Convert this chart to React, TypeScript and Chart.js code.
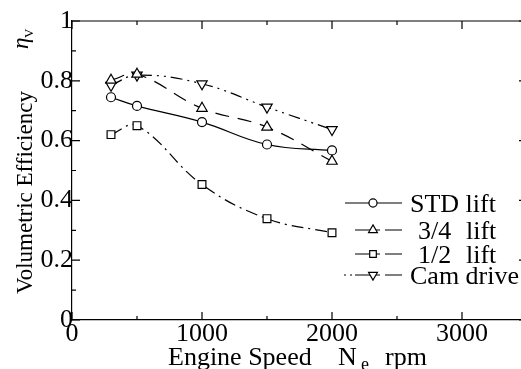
import React, { useEffect, useRef } from 'react';
import { Chart, registerables } from 'chart.js';
Chart.register(...registerables);

const speeds = [300, 500, 1000, 1500, 2000];
const stdLift = [0.745, 0.716, 0.662, 0.587, 0.567];
const threeQuarterLift = [0.802, 0.822, 0.708, 0.645, 0.531];
const halfLift = [0.62, 0.65, 0.453, 0.339, 0.292];
const camDrive = [0.785, 0.819, 0.79, 0.712, 0.637];
const seriesLabels = ['STD lift', '3/4', '1/2', 'Cam drive'];
const xTickValues = [0, 1000, 2000, 3000];
const yTickValues = [0, 0.2, 0.4, 0.6, 0.8, 1];

const FONT = "'Liberation Serif', 'Times New Roman', serif";

const styles = [
  { dash: [], point: 'circle', radius: 4.5, rot: 0 },
  { dash: [14, 9], point: 'triangle', radius: 6, rot: 0 },
  { dash: [12, 5, 2, 5], point: 'rect', radius: 5.5, rot: 0 },
  { dash: [12, 5, 2, 5, 2, 5], point: 'triangle', radius: 6, rot: 180 },
];

function drawMarker(ctx: CanvasRenderingContext2D, kind: string, x: number, y: number, r: number, rot: number) {
  ctx.save();
  ctx.setLineDash([]);
  ctx.fillStyle = '#fff';
  ctx.strokeStyle = '#000';
  ctx.lineWidth = 1.2;
  ctx.beginPath();
  if (kind === 'circle') {
    ctx.arc(x, y, r, 0, Math.PI * 2);
  } else if (kind === 'rect') {
    const s = Math.SQRT1_2 * r;
    ctx.rect(x - s, y - s, 2 * s, 2 * s);
  } else {
    const a0 = (rot * Math.PI) / 180;
    for (let i = 0; i < 3; i++) {
      const a = a0 + (i * 2 * Math.PI) / 3;
      const px = x + Math.sin(a) * r;
      const py = y - Math.cos(a) * r;
      if (i === 0) ctx.moveTo(px, py); else ctx.lineTo(px, py);
    }
    ctx.closePath();
  }
  ctx.fill();
  ctx.stroke();
  ctx.restore();
}

const decorPlugin = {
  id: 'decor',
  afterDraw(chart: any) {
    const ctx: CanvasRenderingContext2D = chart.ctx;
    const { left, right, top, bottom } = chart.chartArea;
    const xs = chart.scales.x;
    const ys = chart.scales.y;
    ctx.save();
    ctx.strokeStyle = '#000';
    ctx.lineWidth = 1.2;
    ctx.setLineDash([]);
    ctx.beginPath();
    ctx.moveTo(left, top);
    ctx.lineTo(right, top);
    ctx.lineTo(right, bottom);
    ctx.stroke();
    ctx.beginPath();
    for (let v = 0; v <= 3500; v += 500) {
      const px = xs.getPixelForValue(v);
      const len = v % 1000 === 0 ? 8 : 4;
      ctx.moveTo(px, bottom); ctx.lineTo(px, bottom - len);
      ctx.moveTo(px, top); ctx.lineTo(px, top + len);
    }
    for (let i = 0; i <= 10; i++) {
      const v = i / 10;
      const py = ys.getPixelForValue(v);
      const len = i % 2 === 0 ? 8 : 4;
      ctx.moveTo(left, py); ctx.lineTo(left + len, py);
      ctx.moveTo(right, py); ctx.lineTo(right - len, py);
    }
    ctx.stroke();

    ctx.fillStyle = '#000';
    ctx.textBaseline = 'alphabetic';
    ctx.textAlign = 'left';
    ctx.font = `26px ${FONT}`;
    ctx.fillText('Engine Speed', 168, 365);
    ctx.fillText('N', 338, 365);
    ctx.fillText('rpm', 385, 365);
    ctx.font = `18px ${FONT}`;
    ctx.fillText('e', 361, 370);

    ctx.save();
    ctx.translate(32, 294);
    ctx.rotate(-Math.PI / 2);
    ctx.font = `23px ${FONT}`;
    ctx.fillText('Volumetric Efficiency', 0, 0);
    ctx.restore();
    ctx.save();
    ctx.translate(28, 49);
    ctx.rotate(-Math.PI / 2);
    ctx.font = `italic 23px ${FONT}`;
    ctx.fillText('\u03B7', 0, 0);
    ctx.font = `13px ${FONT}`;
    ctx.fillText('V', 11, 5);
    ctx.restore();

    const rows = [203, 230, 254, 275];
    ctx.font = `26px ${FONT}`;
    chart.data.datasets.forEach((ds: any, i: number) => {
      const st = styles[i];
      const y = rows[i];
      ctx.save();
      ctx.lineWidth = 1.2;
      ctx.strokeStyle = '#000';
      ctx.beginPath();
      if (i === 0) {
        ctx.moveTo(345, y); ctx.lineTo(402, y);
      } else {
        if (i === 3) { ctx.moveTo(344, y); ctx.lineTo(346, y); ctx.moveTo(350, y); ctx.lineTo(352, y); }
        ctx.moveTo(355, y); ctx.lineTo(380, y);
        ctx.moveTo(385, y); ctx.lineTo(402, y);
      }
      ctx.stroke();
      ctx.restore();
      drawMarker(ctx, st.point, 373, y, st.radius * (i === 0 ? 0.9 : 0.85), st.rot);
      const base = y + 9;
      if (i === 0) {
        ctx.fillText('STD lift', 410, base);
      } else if (i === 3) {
        ctx.fillText('Cam drive', 410, base);
      } else {
        ctx.fillText(ds.label, 418, base);
        ctx.fillText('lift', 466, base);
      }
    });
    ctx.restore();
  },
};

export default function App() {
  const ref = useRef<HTMLCanvasElement>(null);
  useEffect(() => {
    if (!ref.current) return;
    const series = [stdLift, threeQuarterLift, halfLift, camDrive];
    const chart = new Chart(ref.current, {
      type: 'line',
      data: {
        datasets: series.map((vals, i) => ({
          label: seriesLabels[i],
          data: speeds.map((s, j) => ({ x: s, y: vals[j] })),
          borderColor: '#000',
          borderWidth: 1.2,
          borderDash: styles[i].dash,
          tension: 0.4,
          fill: false,
          pointStyle: styles[i].point as any,
          pointRadius: styles[i].radius,
          pointRotation: styles[i].rot,
          pointBackgroundColor: '#fff',
          pointBorderColor: '#000',
          pointBorderWidth: 1.2,
        })),
      },
      options: {
        responsive: false,
        maintainAspectRatio: false,
        animation: false,
        layout: { padding: { left: 0, right: 13, top: 21, bottom: 0 } },
        plugins: { legend: { display: false }, tooltip: { enabled: false } },
        scales: {
          x: {
            type: 'linear',
            min: 0,
            max: 3500,
            afterBuildTicks: (s: any) => { s.ticks = xTickValues.map((v) => ({ value: v })); },
            afterFit: (s: any) => { s.height = 49; },
            grid: { display: true, drawOnChartArea: false, drawTicks: false },
            border: { display: true, color: '#000', width: 1.2 },
            ticks: { color: '#000', font: { family: FONT, size: 26 }, padding: -1, maxRotation: 0, autoSkip: false, callback: (v: any) => String(v) },
          },
          y: {
            type: 'linear',
            min: 0,
            max: 1,
            afterBuildTicks: (s: any) => { s.ticks = yTickValues.map((v) => ({ value: v })); },
            afterFit: (s: any) => { s.width = 72; },
            grid: { display: true, drawOnChartArea: false, drawTicks: false },
            border: { display: true, color: '#000', width: 1.2 },
            ticks: { color: '#000', font: { family: FONT, size: 26 }, padding: -1, autoSkip: false, callback: (v: any) => String(v) },
          },
        },
      },
      plugins: [decorPlugin],
    });
    return () => chart.destroy();
  }, []);
  return (
    <div style={{ position: 'absolute', left: 0, top: 0, width: 521, height: 369, overflow: 'hidden', background: '#fff' }}>
      <canvas ref={ref} width={540} height={369} style={{ display: 'block' }} />
    </div>
  );
}
